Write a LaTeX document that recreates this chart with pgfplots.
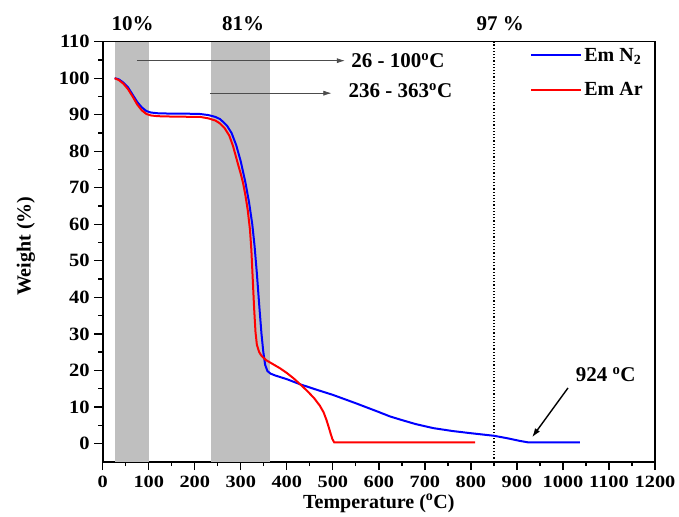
\documentclass[border=0pt]{standalone}
\usepackage{fontspec}
\setmainfont{Liberation Serif}
\newfontfamily\tickfont[FakeStretch=1.09]{Liberation Serif}
\newfontfamily\xtickfont[FakeStretch=1.18]{Liberation Serif}
\usepackage{pgfplots}
\pgfplotsset{compat=1.18}
\usetikzlibrary{arrows.meta}
\begin{document}
\begin{tikzpicture}
\begin{axis}[
  scale only axis,
  width=552.3pt, height=420pt,
  xmin=0, xmax=1200, ymin=-5, ymax=110,
  xtick={0,100,...,1200}, ytick={0,10,...,110},
  minor x tick num=1, minor y tick num=1,
  tick pos=left, tick align=outside,
  major tick length=8.5pt, minor tick length=4.5pt,
  every tick/.style={black, line width=1.3pt},
  axis line style={line width=1.6pt},
  /pgf/number format/assume math mode=true,
  /pgf/number format/set thousands separator={},
  yticklabel style={font=\tickfont\bfseries\fontsize{18.8}{20}\selectfont, xshift=-1pt},
  xticklabel style={font=\xtickfont\bfseries\fontsize{17.2}{19}\selectfont, inner sep=1pt, yshift=-4.5pt},
  xlabel={\textbf{Temperature (\textsuperscript{o}C)}},
  ylabel={\textbf{Weight (\%)}},
  label style={font=\bfseries\fontsize{20}{22}\selectfont},
  xlabel style={at={(axis description cs:0.5,0)}, anchor=base, inner sep=0pt, yshift=-46.5pt},
  ylabel style={at={(axis description cs:0,0.513)}, anchor=center, yshift=76.7pt},
  clip=false,
  legend style={draw=none, fill=none, at={(0.774,0.99)}, anchor=north west, inner sep=0pt,
    font=\bfseries\fontsize{20}{22}\selectfont, row sep=16pt,
    legend cell align=left},
  legend image code/.code={\draw[#1] (0pt,0pt) -- (50pt,0pt);},
]
\fill[gray!50] (axis cs:26,-5) rectangle (axis cs:100,110);
\fill[gray!50] (axis cs:236,-5) rectangle (axis cs:363,110);
\draw[black, dotted, line width=1.2pt] (axis cs:850,-5) -- (axis cs:850,110);

\addplot[blue, line width=2pt] coordinates {
(26,100) (35,99.7) (45,98.8) (55,97.5) (65,95.5) (75,93.5) (85,92) (95,91)
(105,90.6) (120,90.4) (150,90.3) (180,90.3) (212,90.2) (230,89.9) (245,89.4)
(255,88.8) (262,88) (270,87) (280,85) (290,81.7) (300,77.2) (310,71.5)
(318,66) (325,60) (330,54) (335,46.5) (340,38) (345,30) (349,25)
(353,21.5) (358,19.8) (365,19.1) (375,18.6) (385,18.2) (400,17.6) (429,16.2) (460,14.9)
(500,13.3) (550,11) (600,8.6) (624,7.4) (650,6.4) (680,5.3) (718,4.2)
(760,3.4) (800,2.8) (850,2.1) (880,1.4) (906,0.7) (924,0.3) (1037,0.3)
};
\addlegendentry{Em N\textsubscript{2}}
\addplot[red, line width=2pt] coordinates {
(26,100) (35,99.5) (45,98.5) (55,97) (65,95) (75,92.8) (85,91.2) (95,90.2)
(105,89.8) (120,89.6) (150,89.5) (212,89.4) (230,89) (245,88.4) (255,87.6)
(265,86.3) (275,84.3) (283,81.5) (290,78.3) (295,76) (300,73.8) (305,71.3)
(310,68) (315,64) (320,58.5) (323,53) (326,45) (329,37) (332,30.5) (335,27)
(340,25) (345,24) (355,22.8) (370,21.7) (385,20.6) (400,19.3) (415,17.8)
(429,16.2) (445,14.3) (460,12.3) (472,10.3) (480,8.5) (486,6.5) (491,4.5)
(495,2.8) (499,1.2) (503,0.3) (809,0.3)
};
\addlegendentry{Em Ar}

\draw[black!70, line width=0.6pt, -{Latex[length=8pt,width=5pt]}] (axis cs:74,104.8) -- (axis cs:526,104.8);
\draw[black!70, line width=0.6pt, -{Latex[length=8pt,width=5pt]}] (axis cs:233,95.9) -- (axis cs:497,95.9);
\draw[black, line width=1.4pt, -{Latex[length=9pt,width=6pt]}] (axis cs:1011,15.2) -- (axis cs:933,1.7);

\node[anchor=west, font=\bfseries\fontsize{21}{23}\selectfont, inner sep=0pt] at (axis cs:540,104.8) {26 - 100\textsuperscript{o}C};
\node[anchor=west, font=\bfseries\fontsize{21}{23}\selectfont, inner sep=0pt] at (axis cs:534,96.6) {236 - 363\textsuperscript{o}C};
\node[font=\bfseries\fontsize{21}{23}\selectfont, inner sep=0pt] at (axis cs:1093,18.8) {924 \textsuperscript{o}C};
\node[font=\bfseries\fontsize{21}{23}\selectfont, inner sep=0pt] at (axis cs:65,114.9) {10\%};
\node[font=\bfseries\fontsize{21}{23}\selectfont, inner sep=0pt] at (axis cs:305,114.9) {81\%};
\node[font=\bfseries\fontsize{21}{23}\selectfont, inner sep=0pt] at (axis cs:864,114.9) {97 \%};
\end{axis}
\pgfresetboundingbox
\path ([shift={(-102.7pt,-54.3pt)}]current axis.south west) rectangle ([shift={(24pt,41.7pt)}]current axis.north east);
\end{tikzpicture}
\end{document}
